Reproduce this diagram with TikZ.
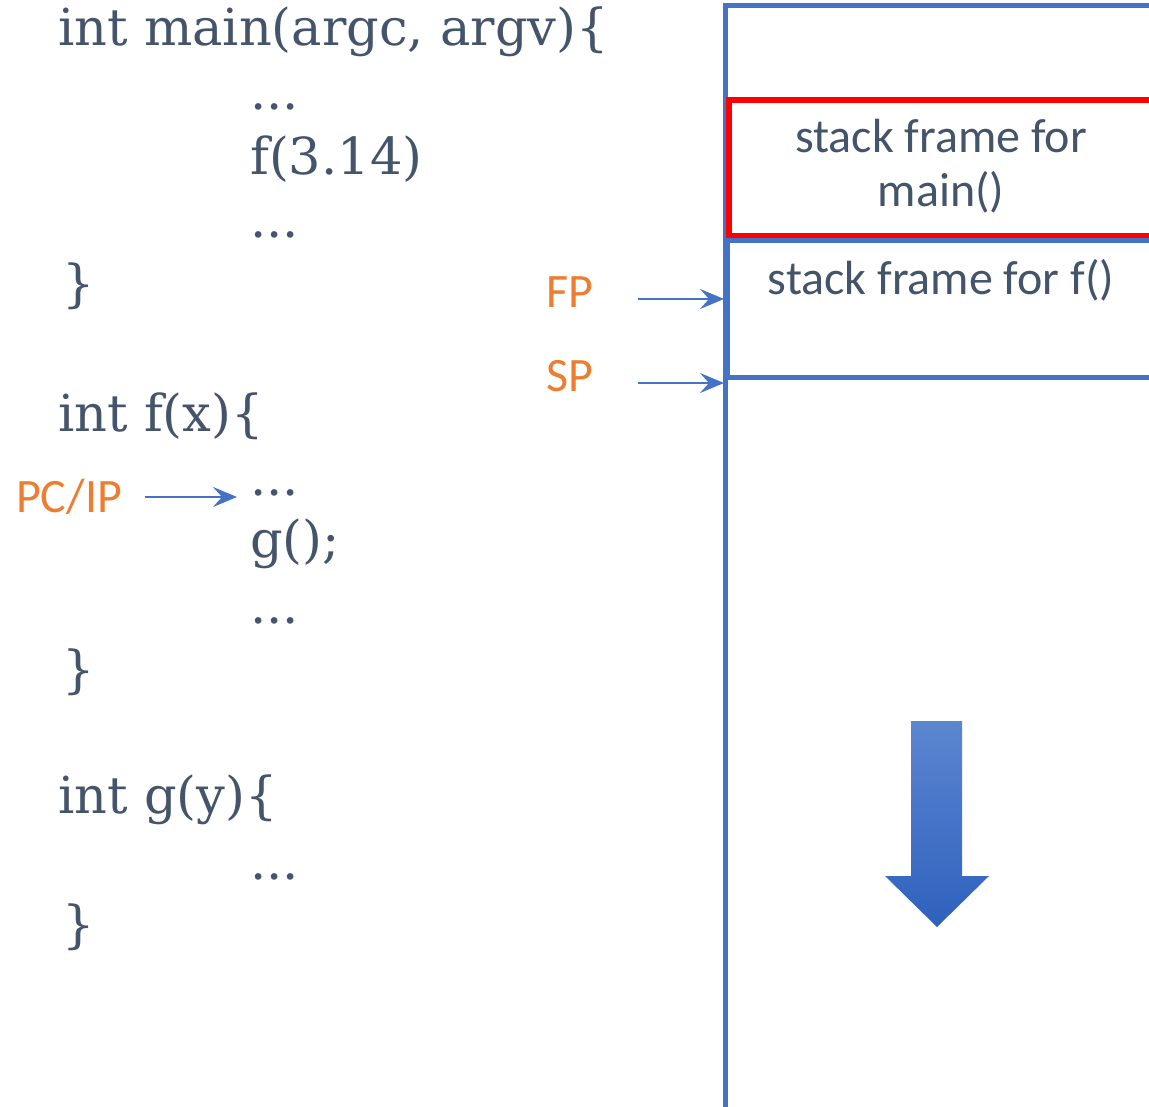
\documentclass[tikz,border=0pt]{standalone}
\usepackage{fontspec}
\newfontfamily\labelfont{Carlito}
\newfontfamily\codefont{DejaVu Serif}
\usetikzlibrary{arrows.meta}
\definecolor{codec}{HTML}{44546A}
\definecolor{stackblue}{HTML}{4472C4}
\definecolor{framered}{HTML}{FF0000}
\definecolor{regorange}{HTML}{ED7D31}
\definecolor{arrowtop}{HTML}{5B86D0}
\definecolor{arrowbot}{HTML}{2F61BD}
\tikzset{
  code/.style={anchor=base west, text=codec, inner sep=0pt,
    font=\codefont\fontsize{51}{58}\selectfont},
  reglabel/.style={anchor=center, text=regorange, inner sep=0pt,
    font=\labelfont\fontsize{48}{56}\selectfont},
  frametext/.style={anchor=center, text=codec, inner sep=0pt, align=center,
    font=\labelfont\fontsize{48}{54}\selectfont},
  stackframe/.style={draw, anchor=north west, minimum width=460pt, inner sep=0pt},
  ptr/.style={draw=stackblue, line width=2.2pt,
    -{Stealth[length=24pt, width=20pt, inset=9pt]}},
}
\begin{document}
\begin{tikzpicture}[x=1pt, y=-1pt]
\useasboundingbox (0,0) rectangle (1149,1107);

% source code listing
\node[code] (mainhead) at (58,46) {int main(argc, argv)\{};
\node[code] (maindots1) at (250,110) {...};
\node[code] (maincall) at (250,175) {f(3.14)};
\node[code] (maindots2) at (250,238) {...};
\node[code] (mainend) at (62,302) {\}};

\node[code] (fhead) at (58,431) {int f(x)\{};
\node[code] (fdots1) at (250,495) {...};
\node[code] (fcall) at (250,557) {g();};
\node[code] (fdots2) at (250,623) {...};
\node[code] (fend) at (62,687) {\}};

\node[code] (ghead) at (58,813) {int g(y)\{};
\node[code] (gdots) at (250,879) {...};
\node[code] (gend) at (62,942) {\}};

% the stack region
\draw[stackblue, line width=5pt] (1175,6) -| (725,1115);

\node[stackframe, draw=framered, line width=6pt, minimum height=136pt]
  (mainframe) at (726,97) {};
\node[frametext] (maintext) at (941,166) {stack frame for\\main()};

\node[stackframe, draw=stackblue, line width=5pt, minimum height=137pt]
  (fframe) at (725,238) {};
\node[frametext] (ftext) at (941,280) {stack frame for f()};

% register pointers
\node[reglabel] (fp) at (570,292) {FP};
\node[reglabel] (sp) at (570,376) {SP};
\node[reglabel] (pc) at (69,497) {PC/IP};

\coordinate (fptail) at (638,299);
\coordinate (fphead) at (724,299);
\coordinate (sptail) at (638,383);
\coordinate (sphead) at (724,383);
\coordinate (pctail) at (145,497);
\coordinate (pchead) at (237,497);

\draw[ptr] (fptail) -- (fphead);
\draw[ptr] (sptail) -- (sphead);
\draw[ptr] (pctail) -- (pchead);

% direction of stack growth
\shade[top color=arrowtop, bottom color=arrowbot]
  (911,721) -- (962,721) -- (962,876) -- (989,876) -- (937,927)
  -- (885,876) -- (911,876) -- cycle;
\end{tikzpicture}
\end{document}
